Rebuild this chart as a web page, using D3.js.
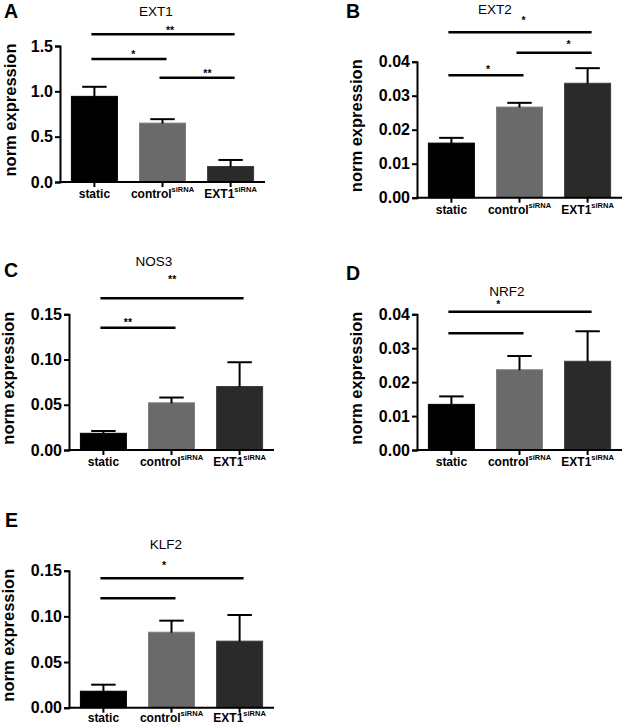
<!DOCTYPE html>
<html>
<head>
<meta charset="utf-8">
<script src="https://cdn.jsdelivr.net/npm/d3@7/dist/d3.min.js"></script>
<style>
  html, body { margin: 0; padding: 0; background: #fff; }
  svg { display: block; }
  text { font-family: "Liberation Sans", Arial, Helvetica, sans-serif; fill: #000; }
</style>
</head>
<body>
<svg id="chart" width="622" height="725"></svg>
<script>
// ---------- data ----------
const categories = ["static", "control", "EXT1"];
const categorySuper = ["", "siRNA", "siRNA"];

const ext1Means = [0.95, 0.655, 0.176];
const ext1Sems  = [0.10, 0.038, 0.067];
const ext2Means = [0.0162, 0.0268, 0.0338];
const ext2Sems  = [0.0014, 0.0011, 0.0043];
const nos3Means = [0.019, 0.0527, 0.0707];
const nos3Sems  = [0.002, 0.0053, 0.0263];
const nrf2Means = [0.0136, 0.0238, 0.0263];
const nrf2Sems  = [0.0022, 0.0039, 0.0087];
const klf2Means = [0.0186, 0.0832, 0.0734];
const klf2Sems  = [0.0066, 0.0121, 0.0281];

const ticksA = [0, 0.5, 1.0, 1.5];
const ticksSmall = [0, 0.01, 0.02, 0.03, 0.04];
const ticksMid = [0, 0.05, 0.10, 0.15];

// significance brackets: from/to category index, line level (data units),
// star label, label level (data units), label position (category index)
const sigA = [
  {from: 0, to: 2, level: 1.629, label: "**", labelLevel: 1.629, at: 1.11},
  {from: 0, to: 1, level: 1.357, label: "*",  labelLevel: 1.363, at: 0.57},
  {from: 1, to: 2, level: 1.150, label: "**", labelLevel: 1.154, at: 1.66}
];
const sigB = [
  {from: 0, to: 2, level: 0.04865, label: "*", labelLevel: 0.0510, at: 1.06},
  {from: 1, to: 2, level: 0.04265, label: "*", labelLevel: 0.0439, at: 1.72},
  {from: 0, to: 1, level: 0.0360,  label: "*", labelLevel: 0.0368, at: 0.54}
];
const sigC = [
  {from: 0, to: 2, level: 0.1677, label: "**", labelLevel: 0.1846, at: 1.01},
  {from: 0, to: 1, level: 0.1352, label: "**", labelLevel: 0.1371, at: 0.36}
];
const sigD = [
  {from: 0, to: 2, level: 0.04077, label: "*", labelLevel: 0.0420, at: 0.69},
  {from: 0, to: 1, level: 0.0344,  label: "",  labelLevel: 0.0344, at: 0.5}
];
const sigE = [
  {from: 0, to: 2, level: 0.1417, label: "*", labelLevel: 0.1519, at: 0.89},
  {from: 0, to: 1, level: 0.1198, label: "",  labelLevel: 0.1198, at: 0.5}
];

const barColors = ["#000000", "#6a6a6a", "#2a2a2a"];
const barStrokes = ["#000000", "#7e7e7e", "#3a3a3a"];

// ---------- layout ----------
const panels = [
  {letter: "A", title: "EXT1", means: ext1Means, sems: ext1Sems, ticks: ticksA, fmt: ".1f", max: 1.5, sig: sigA,
   x0: 60, yB: 182, yT: 46, letterPos: [4, 17.5], titlePos: [156, 16], yTitleX: 11, labOff: 16},
  {letter: "B", title: "EXT2", means: ext2Means, sems: ext2Sems, ticks: ticksSmall, fmt: ".2f", max: 0.04, sig: sigB,
   x0: 417, yB: 197.7, yT: 61.7, letterPos: [346, 18], titlePos: [495, 14], yTitleX: 357, labOff: 16},
  {letter: "C", title: "NOS3", means: nos3Means, sems: nos3Sems, ticks: ticksMid, fmt: ".2f", max: 0.15, sig: sigC,
   x0: 69, yB: 450, yT: 314.3, letterPos: [4, 277], titlePos: [154, 266], yTitleX: 9, labOff: 16},
  {letter: "D", title: "NRF2", means: nrf2Means, sems: nrf2Sems, ticks: ticksSmall, fmt: ".2f", max: 0.04, sig: sigD,
   x0: 417, yB: 450, yT: 314.3, letterPos: [346, 279.5], titlePos: [507, 296], yTitleX: 357, labOff: 16},
  {letter: "E", title: "KLF2", means: klf2Means, sems: klf2Sems, ticks: ticksMid, fmt: ".2f", max: 0.15, sig: sigE,
   x0: 69, yB: 707.7, yT: 570.7, letterPos: [5, 527], titlePos: [166, 549], yTitleX: 9, labOff: 14.3}
];

const svg = d3.select("#chart");

panels.forEach(p => {
  const g = svg.append("g");
  const x = d3.scaleBand().domain(d3.range(categories.length))
    .range([p.x0, p.x0 + 205]).paddingInner(0.31).paddingOuter(0.16);
  const y = d3.scaleLinear().domain([0, p.max]).range([p.yB, p.yT]);
  const cx = i => x(i) + x.bandwidth() / 2;
  const cxFrac = t => {
    const i0 = Math.min(Math.floor(t), categories.length - 2);
    return cx(i0) + (t - i0) * (cx(i0 + 1) - cx(i0));
  };

  // panel letter
  g.append("text").attr("x", p.letterPos[0]).attr("y", p.letterPos[1])
    .attr("font-size", 19.5).attr("font-weight", "bold").text(p.letter);
  // title
  g.append("text").attr("x", p.titlePos[0]).attr("y", p.titlePos[1])
    .attr("text-anchor", "middle").attr("font-size", 13.5).text(p.title);

  // bars
  g.selectAll("rect.bar").data(p.means).enter().append("rect")
    .attr("class", "bar")
    .attr("x", (d, i) => x(i) + 0.5)
    .attr("width", x.bandwidth() - 1)
    .attr("y", d => y(d) + 0.5)
    .attr("height", d => y(0) - y(d) - 0.5)
    .attr("fill", (d, i) => barColors[i])
    .attr("stroke", (d, i) => barStrokes[i])
    .attr("stroke-width", 1);

  // error bars (upper only)
  const capW = x.bandwidth() * 0.52;
  const eb = g.selectAll("g.err").data(p.means).enter().append("g").attr("class", "err");
  eb.append("line")
    .attr("x1", (d, i) => cx(i)).attr("x2", (d, i) => cx(i))
    .attr("y1", (d, i) => y(d) + 1)
    .attr("y2", (d, i) => y(d + p.sems[i]))
    .attr("stroke", "#000").attr("stroke-width", 2);
  eb.append("line")
    .attr("x1", (d, i) => cx(i) - capW / 2).attr("x2", (d, i) => cx(i) + capW / 2)
    .attr("y1", (d, i) => y(d + p.sems[i])).attr("y2", (d, i) => y(d + p.sems[i]))
    .attr("stroke", "#000").attr("stroke-width", 2);

  // y axis
  const yAxis = d3.axisLeft(y).tickValues(p.ticks).tickFormat(d3.format(p.fmt))
    .tickSizeOuter(0).tickSize(5).tickPadding(2);
  const ya = g.append("g").attr("transform", `translate(${p.x0},0)`).call(yAxis);
  ya.select(".domain").attr("stroke", "#000").attr("stroke-width", 2);
  ya.selectAll(".tick line").attr("stroke", "#000").attr("stroke-width", 2);
  ya.selectAll(".tick text").attr("font-size", 16).attr("font-weight", "bold")
    .attr("font-family", "'Liberation Sans', Arial, sans-serif").attr("fill", "#000");

  // x axis
  const xAxis = d3.axisBottom(x).tickSize(5).tickSizeOuter(0).tickFormat(() => "");
  const xa = g.append("g").attr("transform", `translate(0,${p.yB})`).call(xAxis);
  xa.select(".domain").attr("stroke", "#000").attr("stroke-width", 2)
    .attr("d", `M${p.x0 - 1},0H${p.x0 + 205}`);
  xa.selectAll(".tick line").attr("stroke", "#000").attr("stroke-width", 2);

  // x labels with superscripts
  categories.forEach((c, i) => {
    const t = g.append("text").attr("x", cx(i)).attr("y", p.yB + p.labOff)
      .attr("text-anchor", "middle").attr("font-weight", "bold").attr("font-size", 12);
    t.append("tspan").text(c);
    if (categorySuper[i]) {
      t.append("tspan").attr("font-size", 7.5).attr("dy", -6).text(categorySuper[i]);
    }
  });

  // y title
  g.append("text")
    .attr("transform", `translate(${p.yTitleX + 4.5},${(p.yB + p.yT) / 2 - 4}) rotate(-90)`)
    .attr("text-anchor", "middle").attr("font-weight", "bold").attr("font-size", 16.5)
    .text("norm expression");

  // significance brackets
  p.sig.forEach(s => {
    g.append("line")
      .attr("x1", cx(s.from) - 3).attr("x2", cx(s.to) + 4)
      .attr("y1", y(s.level)).attr("y2", y(s.level))
      .attr("stroke", "#000").attr("stroke-width", 2.5);
    if (s.label) {
      g.append("text").attr("x", cxFrac(s.at)).attr("y", y(s.labelLevel))
        .attr("text-anchor", "middle").attr("font-size", 10.5).attr("font-weight", "bold")
        .text(s.label);
    }
  });
});
</script>
</body>
</html>
